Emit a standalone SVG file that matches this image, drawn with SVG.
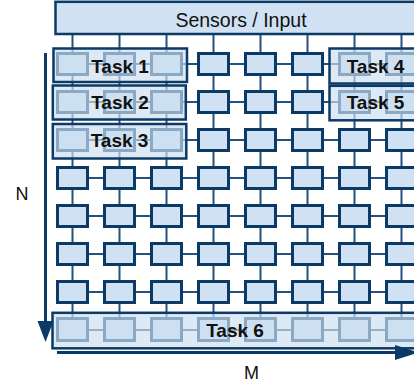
<svg xmlns="http://www.w3.org/2000/svg" width="414" height="389" viewBox="0 0 414 389">
  <style>
    .link { stroke: #24517e; stroke-width: 2; fill: none; }
    .pe { fill: #cfe1f3; stroke: #0b3a66; stroke-width: 3; }
    .task { fill: #cde0f2; fill-opacity: 0.67; stroke: #0b3a66; stroke-width: 2.5; }
    .io { fill: #cfe1f3; stroke: #0b3a66; stroke-width: 2.5; }
    .lbl { font-family: "Liberation Sans", Arial, sans-serif; font-size: 18px; fill: #111; }
    .title { font-size: 19.5px; }
    .tl { font-family: "Liberation Sans", Arial, sans-serif; font-size: 19px; font-weight: bold; fill: #111; text-anchor: middle; }
    .axis { stroke: #0b3a66; stroke-width: 3; fill: none; }
    .head { fill: #0b3a66; }
  </style>

  <!-- mesh interconnect -->
  <g id="connectors">
    <path class="link" d="M72.5 34V330M119.5 34V330M166.5 34V330M213.5 34V330M260.5 34V330M307.5 34V330M354.5 34V330M401.5 34V330"/>
    <path class="link" d="M72.5 64H414M72.5 102H414M72.5 140H414M72.5 178H414M72.5 216H414M72.5 254H414M72.5 292H414M72.5 330H414"/>
  </g>

  <!-- input stage -->
  <g id="sensors">
    <rect class="io" x="55.5" y="1.8" width="370" height="32.2"/>
    <text class="lbl title" x="241" y="26.5" text-anchor="middle">Sensors / Input</text>
  </g>

  <!-- processing elements, row by row -->
  <g id="pe-grid">
    <g id="pe-r0">
      <rect id="pe-0-0" class="pe" x="57.5" y="53.5" width="30" height="21"/>
      <rect id="pe-0-1" class="pe" x="104.5" y="53.5" width="30" height="21"/>
      <rect id="pe-0-2" class="pe" x="151.5" y="53.5" width="30" height="21"/>
      <rect id="pe-0-3" class="pe" x="198.5" y="53.5" width="30" height="21"/>
      <rect id="pe-0-4" class="pe" x="245.5" y="53.5" width="30" height="21"/>
      <rect id="pe-0-5" class="pe" x="292.5" y="53.5" width="30" height="21"/>
      <rect id="pe-0-6" class="pe" x="339.5" y="53.5" width="30" height="21"/>
      <rect id="pe-0-7" class="pe" x="386.5" y="53.5" width="30" height="21"/>
    </g>
    <g id="pe-r1">
      <rect id="pe-1-0" class="pe" x="57.5" y="91.5" width="30" height="21"/>
      <rect id="pe-1-1" class="pe" x="104.5" y="91.5" width="30" height="21"/>
      <rect id="pe-1-2" class="pe" x="151.5" y="91.5" width="30" height="21"/>
      <rect id="pe-1-3" class="pe" x="198.5" y="91.5" width="30" height="21"/>
      <rect id="pe-1-4" class="pe" x="245.5" y="91.5" width="30" height="21"/>
      <rect id="pe-1-5" class="pe" x="292.5" y="91.5" width="30" height="21"/>
      <rect id="pe-1-6" class="pe" x="339.5" y="91.5" width="30" height="21"/>
      <rect id="pe-1-7" class="pe" x="386.5" y="91.5" width="30" height="21"/>
    </g>
    <g id="pe-r2">
      <rect id="pe-2-0" class="pe" x="57.5" y="129.5" width="30" height="21"/>
      <rect id="pe-2-1" class="pe" x="104.5" y="129.5" width="30" height="21"/>
      <rect id="pe-2-2" class="pe" x="151.5" y="129.5" width="30" height="21"/>
      <rect id="pe-2-3" class="pe" x="198.5" y="129.5" width="30" height="21"/>
      <rect id="pe-2-4" class="pe" x="245.5" y="129.5" width="30" height="21"/>
      <rect id="pe-2-5" class="pe" x="292.5" y="129.5" width="30" height="21"/>
      <rect id="pe-2-6" class="pe" x="339.5" y="129.5" width="30" height="21"/>
      <rect id="pe-2-7" class="pe" x="386.5" y="129.5" width="30" height="21"/>
    </g>
    <g id="pe-r3">
      <rect id="pe-3-0" class="pe" x="57.5" y="167.5" width="30" height="21"/>
      <rect id="pe-3-1" class="pe" x="104.5" y="167.5" width="30" height="21"/>
      <rect id="pe-3-2" class="pe" x="151.5" y="167.5" width="30" height="21"/>
      <rect id="pe-3-3" class="pe" x="198.5" y="167.5" width="30" height="21"/>
      <rect id="pe-3-4" class="pe" x="245.5" y="167.5" width="30" height="21"/>
      <rect id="pe-3-5" class="pe" x="292.5" y="167.5" width="30" height="21"/>
      <rect id="pe-3-6" class="pe" x="339.5" y="167.5" width="30" height="21"/>
      <rect id="pe-3-7" class="pe" x="386.5" y="167.5" width="30" height="21"/>
    </g>
    <g id="pe-r4">
      <rect id="pe-4-0" class="pe" x="57.5" y="205.5" width="30" height="21"/>
      <rect id="pe-4-1" class="pe" x="104.5" y="205.5" width="30" height="21"/>
      <rect id="pe-4-2" class="pe" x="151.5" y="205.5" width="30" height="21"/>
      <rect id="pe-4-3" class="pe" x="198.5" y="205.5" width="30" height="21"/>
      <rect id="pe-4-4" class="pe" x="245.5" y="205.5" width="30" height="21"/>
      <rect id="pe-4-5" class="pe" x="292.5" y="205.5" width="30" height="21"/>
      <rect id="pe-4-6" class="pe" x="339.5" y="205.5" width="30" height="21"/>
      <rect id="pe-4-7" class="pe" x="386.5" y="205.5" width="30" height="21"/>
    </g>
    <g id="pe-r5">
      <rect id="pe-5-0" class="pe" x="57.5" y="243.5" width="30" height="21"/>
      <rect id="pe-5-1" class="pe" x="104.5" y="243.5" width="30" height="21"/>
      <rect id="pe-5-2" class="pe" x="151.5" y="243.5" width="30" height="21"/>
      <rect id="pe-5-3" class="pe" x="198.5" y="243.5" width="30" height="21"/>
      <rect id="pe-5-4" class="pe" x="245.5" y="243.5" width="30" height="21"/>
      <rect id="pe-5-5" class="pe" x="292.5" y="243.5" width="30" height="21"/>
      <rect id="pe-5-6" class="pe" x="339.5" y="243.5" width="30" height="21"/>
      <rect id="pe-5-7" class="pe" x="386.5" y="243.5" width="30" height="21"/>
    </g>
    <g id="pe-r6">
      <rect id="pe-6-0" class="pe" x="57.5" y="281.5" width="30" height="21"/>
      <rect id="pe-6-1" class="pe" x="104.5" y="281.5" width="30" height="21"/>
      <rect id="pe-6-2" class="pe" x="151.5" y="281.5" width="30" height="21"/>
      <rect id="pe-6-3" class="pe" x="198.5" y="281.5" width="30" height="21"/>
      <rect id="pe-6-4" class="pe" x="245.5" y="281.5" width="30" height="21"/>
      <rect id="pe-6-5" class="pe" x="292.5" y="281.5" width="30" height="21"/>
      <rect id="pe-6-6" class="pe" x="339.5" y="281.5" width="30" height="21"/>
      <rect id="pe-6-7" class="pe" x="386.5" y="281.5" width="30" height="21"/>
    </g>
    <g id="pe-r7">
      <rect id="pe-7-0" class="pe" x="57.5" y="318.5" width="30" height="22"/>
      <rect id="pe-7-1" class="pe" x="104.5" y="318.5" width="30" height="22"/>
      <rect id="pe-7-2" class="pe" x="151.5" y="318.5" width="30" height="22"/>
      <rect id="pe-7-3" class="pe" x="198.5" y="318.5" width="30" height="22"/>
      <rect id="pe-7-4" class="pe" x="245.5" y="318.5" width="30" height="22"/>
      <rect id="pe-7-5" class="pe" x="292.5" y="318.5" width="30" height="22"/>
      <rect id="pe-7-6" class="pe" x="339.5" y="318.5" width="30" height="22"/>
      <rect id="pe-7-7" class="pe" x="386.5" y="318.5" width="30" height="22"/>
    </g>
  </g>

  <!-- task partitions laid over the mesh -->
  <g id="task-1">
    <rect class="task" x="53.5" y="48.5" width="133.5" height="33.5"/>
    <text class="tl" x="120" y="72.5">Task 1</text>
  </g>
  <g id="task-2">
    <rect class="task" x="52.8" y="85.5" width="133" height="34"/>
    <text class="tl" x="120" y="108.5">Task 2</text>
  </g>
  <g id="task-3">
    <rect class="task" x="52.8" y="124" width="133.5" height="34.5"/>
    <text class="tl" x="119.5" y="146.7">Task 3</text>
  </g>
  <g id="task-4">
    <rect class="task" x="329.5" y="48.5" width="90" height="35"/>
    <text class="tl" x="375.5" y="72.5">Task 4</text>
  </g>
  <g id="task-5">
    <rect class="task" x="329.5" y="85.8" width="90" height="34.5"/>
    <text class="tl" x="375.5" y="108.5">Task 5</text>
  </g>
  <g id="task-6">
    <rect class="task" x="52.5" y="312.8" width="370" height="35.5"/>
    <text class="tl" x="235" y="336.7">Task 6</text>
  </g>

  <!-- dimension axes -->
  <g id="axis-n">
    <line class="axis" x1="45.5" y1="53" x2="45.5" y2="322"/>
    <path class="head" d="M37.5 321L53.5 321L45.5 342Z"/>
    <text class="lbl" x="22" y="199.5" text-anchor="middle">N</text>
  </g>
  <g id="axis-m">
    <line class="axis" x1="57" y1="352.5" x2="397" y2="352.5"/>
    <path class="head" d="M395 345L419 352.5L395 360Z"/>
    <text class="lbl" x="251.5" y="379" text-anchor="middle">M</text>
  </g>
</svg>
